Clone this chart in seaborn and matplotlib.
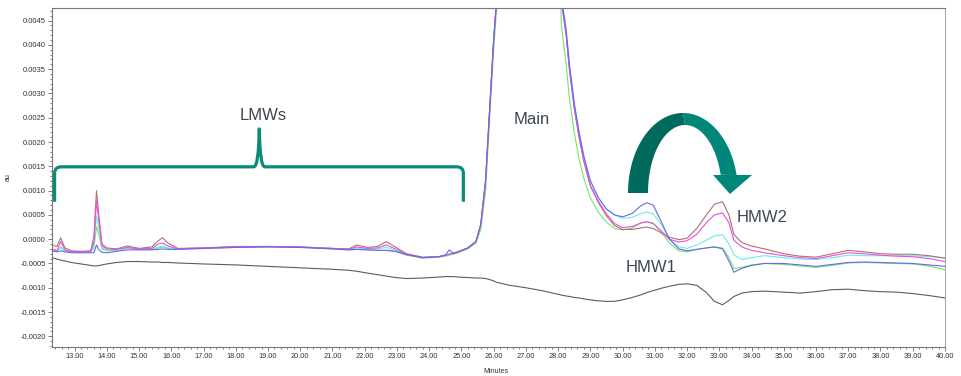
import numpy as np
import pandas as pd
import seaborn as sns
import matplotlib.pyplot as plt
from matplotlib.path import Path
from matplotlib.patches import PathPatch, Polygon
from matplotlib.ticker import MultipleLocator, FuncFormatter

# retention time grid (min) and absorbance of each injection, in 1e-4 au
minutes = [
    12.3, 12.45, 12.57, 12.7, 12.9, 13.2, 13.5, 13.6, 13.68, 13.76,
    13.85, 14.0, 14.3, 14.64, 15.0, 15.4, 15.6, 15.73, 15.9, 16.2,
    17.0, 18.0, 19.0, 20.0, 21.0, 21.5, 21.75, 22.1, 22.4, 22.67,
    22.95, 23.3, 23.8, 24.3, 24.5, 24.62, 24.75, 24.9, 25.2,
    25.45, 25.6, 25.75, 25.87, 26.0, 26.1, 26.5, 27.0, 27.5, 27.9,
    28.1, 28.25, 28.35, 28.5, 28.65, 28.8, 29.0, 29.25, 29.5, 29.75,
    30.0, 30.3, 30.55, 30.75, 30.95, 31.2, 31.45, 31.75, 32.0, 32.3,
    32.6, 32.85, 33.1, 33.3, 33.45, 33.7, 34.0, 34.4, 35.0, 35.5,
    36.0, 36.5, 37.0, 37.5, 38.0, 38.5, 39.0, 39.5, 40.0,
]

brown = [
    -1.2, -1.5, 0.3, -1.8, -2.4, -2.5, -2.4, 0.5, 10.0, 4.5,
    -1.0, -1.8, -2.0, -1.4, -1.9, -1.6, -0.3, 0.3, -0.8, -1.9,
    -1.8, -1.5, -1.5, -1.6, -1.9, -2.0, -1.2, -1.7, -1.5, -0.5,
    -1.6, -3.0, -3.7, -3.6, -3.3, -3.1, -2.9, -2.6, -1.8,
    -0.5, 3.0, 12.0, 26.0, 41.0, 50.0, 300.0, 500.0, 400.0, 120.0,
    49.0, 42.0, 35.0, 27.0, 21.0, 16.0, 11.0, 7.5, 4.8, 2.8,
    2.0, 2.0, 2.3, 2.5, 2.2, 1.3, 0.4, -0.1, 0.2, 2.2,
    5.0, 7.2, 7.7, 5.0, 1.0, -0.7, -1.4, -2.0, -3.0, -3.5,
    -3.7, -3.0, -2.3, -2.6, -3.0, -3.1, -3.1, -3.4, -3.9,
]
magenta = [
    -2.0, -2.4, -0.5, -2.2, -2.6, -2.6, -2.5, -0.5, 7.8, 3.5,
    -1.4, -2.0, -2.1, -1.7, -2.0, -1.9, -1.0, -0.8, -1.4, -2.0,
    -1.8, -1.6, -1.5, -1.6, -1.9, -2.1, -1.6, -1.9, -1.8, -1.2,
    -2.0, -3.1, -3.8, -3.6, -3.3, -3.1, -2.9, -2.6, -1.8,
    -0.5, 3.0, 12.0, 26.0, 41.0, 50.0, 300.0, 500.0, 400.0, 120.0,
    49.0, 42.0, 35.0, 27.0, 21.0, 16.0, 11.0, 7.8, 5.2, 3.2,
    2.4, 2.6, 3.3, 3.6, 3.2, 1.7, 0.0, -0.6, -0.3, 1.0,
    3.4, 5.0, 5.4, 3.4, -0.2, -1.6, -2.3, -2.8, -3.4, -3.8,
    -4.0, -3.4, -2.8, -3.0, -3.3, -3.5, -3.6, -4.0, -4.6,
]
cyan = [
    -2.2, -2.4, -1.8, -2.4, -2.6, -2.6, -2.6, -1.2, 4.8, 2.0,
    -1.8, -2.2, -2.2, -1.9, -2.0, -2.0, -1.6, -1.4, -1.8, -2.0,
    -1.8, -1.6, -1.5, -1.6, -1.9, -2.1, -1.8, -2.0, -2.0, -1.7,
    -2.3, -3.1, -3.8, -3.6, -3.3, -3.1, -2.9, -2.6, -1.8,
    -0.5, 3.0, 12.0, 26.0, 41.0, 50.0, 300.0, 500.0, 400.0, 125.0,
    50.0, 43.0, 36.0, 28.0, 22.0, 17.0, 12.0, 8.5, 6.2, 5.0,
    4.3, 4.5, 5.2, 5.6, 5.2, 3.0, 0.0, -1.6, -1.9, -1.2,
    -0.2, 0.7, 0.9, -1.0, -3.2, -4.2, -3.8, -3.4, -3.8, -4.1,
    -4.2, -3.8, -3.3, -3.4, -3.4, -3.4, -3.4, -3.6, -3.9,
]
green = [
    -2.2, -2.3, -1.6, -2.4, -2.6, -2.6, -2.6, -1.8, 2.6, 0.8,
    -2.0, -2.4, -2.3, -1.9, -2.1, -2.1, -1.8, -1.6, -1.9, -2.1,
    -1.9, -1.7, -1.6, -1.7, -2.0, -2.2, -2.1, -2.2, -2.3, -2.3,
    -2.5, -3.3, -3.9, -3.7, -3.5, -3.3, -3.1, -2.8, -2.0,
    -0.8, 2.0, 10.0, 24.0, 39.0, 48.0, 300.0, 500.0, 400.0, 100.0,
    44.0, 36.0, 29.0, 22.0, 16.5, 12.5, 8.5, 5.5, 3.5, 2.2,
    1.9, 2.3, 3.3, 3.6, 3.3, 1.5, -0.8, -2.4, -2.6, -2.1,
    -1.8, -1.6, -1.8, -3.8, -6.0, -5.8, -5.3, -5.0, -5.2, -5.5,
    -5.8, -5.4, -4.9, -4.8, -4.9, -5.0, -5.1, -5.5, -6.3,
]
blue = [
    -2.4, -2.6, -2.4, -2.6, -2.8, -2.8, -2.8, -2.8, -1.2, -2.2,
    -2.7, -2.8, -2.5, -2.2, -2.2, -2.2, -2.1, -2.0, -2.1, -2.1,
    -1.9, -1.7, -1.6, -1.7, -2.0, -2.2, -2.1, -2.2, -2.3, -2.3,
    -2.5, -3.2, -3.8, -3.6, -3.3, -2.2, -2.9, -2.6, -1.8,
    -0.5, 3.0, 12.0, 26.0, 41.0, 50.0, 300.0, 500.0, 400.0, 125.0,
    50.0, 43.0, 36.0, 28.0, 22.0, 17.0, 12.0, 8.5, 6.2, 5.0,
    4.6, 5.3, 6.8, 7.5, 7.0, 3.6, 0.0, -2.0, -2.4, -2.1,
    -1.8, -1.6, -2.0, -4.5, -6.8, -6.0, -5.4, -5.0, -5.0, -5.3,
    -5.6, -5.2, -4.8, -4.7, -4.8, -4.9, -5.0, -5.3, -5.6,
]
blank = [
    -3.8, -4.1, -4.3, -4.5, -4.8, -5.1, -5.4, -5.5, -5.5, -5.4,
    -5.3, -5.1, -4.8, -4.6, -4.6, -4.7, -4.7, -4.8, -4.8, -4.9,
    -5.1, -5.3, -5.6, -5.9, -6.2, -6.4, -6.6, -7.0, -7.3, -7.6,
    -7.9, -8.1, -8.0, -7.8, -7.7, -7.7, -7.7, -7.8, -7.9,
    -8.0, -8.0, -8.1, -8.3, -8.6, -8.9, -9.5, -10.0, -10.6, -11.2,
    -11.5, -11.7, -11.8, -12.0, -12.1, -12.3, -12.5, -12.7, -12.8, -12.8,
    -12.5, -12.0, -11.5, -11.0, -10.6, -10.1, -9.7, -9.3, -9.2, -9.5,
    -11.0, -12.8, -13.5, -12.6, -11.8, -11.1, -10.8, -10.7, -10.9, -11.1,
    -10.8, -10.4, -10.3, -10.6, -10.8, -10.9, -11.2, -11.6, -12.1,
]

samples = {"green": green, "cyan": cyan, "brown": brown,
           "magenta": magenta, "blue": blue}
palette = {"green": "#6ce86c", "cyan": "#66eeee", "brown": "#b0716f",
           "magenta": "#ee4ee0", "blue": "#6868ee"}

rows = []
for name, vals in samples.items():
    for t, v in zip(minutes, vals):
        rows.append({"Minutes": t, "au": v * 1e-4, "Sample": name})
df = pd.DataFrame(rows)
df_blank = pd.DataFrame({"Minutes": minutes, "au": np.array(blank) * 1e-4})

sns.set_style("white")
plt.rcParams["font.family"] = ["Liberation Sans", "DejaVu Sans"]

W, H = 961, 376
fig = plt.figure(figsize=(W / 100, H / 100), dpi=100)
ax = fig.add_axes([52 / W, 1 - 347 / H, 893 / W, 339 / H])

sns.lineplot(data=df_blank, x="Minutes", y="au", color="#5c5c5c",
             linewidth=0.8, estimator=None, sort=False, ax=ax)
sns.lineplot(data=df, x="Minutes", y="au", hue="Sample", palette=palette,
             estimator=None, sort=False, linewidth=0.8, legend=False, ax=ax)

ax.set_xlim(12.3, 40.001)
ax.set_ylim(-0.00222, 0.00476)
ax.xaxis.set_major_locator(MultipleLocator(1))
ax.xaxis.set_minor_locator(MultipleLocator(0.2))
ax.xaxis.set_major_formatter(FuncFormatter(lambda v, p: f"{v:.2f}"))
ax.yaxis.set_major_locator(MultipleLocator(0.0005))
ax.yaxis.set_minor_locator(MultipleLocator(0.0001))
ax.yaxis.set_major_formatter(
    FuncFormatter(lambda v, p: f"{round(v, 4) + 0.0:.4f}"))
ax.tick_params(which="both", direction="out", color="#666666", width=0.6,
               labelcolor="#333333", pad=1.5, bottom=True, left=True)
ax.tick_params(which="major", length=3)
ax.tick_params(which="minor", length=1.6)
ax.tick_params(axis="x", labelsize=5.3)
ax.tick_params(axis="y", labelsize=5.5)
for s in ax.spines.values():
    s.set_color("#777777")
    s.set_linewidth(0.8)
ax.spines["right"].set_color("#aaaaaa")

ax.set_xlabel("Minutes", fontsize=5, color="#333333")
ax.set_ylabel("au", fontsize=5, color="#333333")
ax.xaxis.set_label_coords(0.497, -0.062)
ax.yaxis.set_label_coords(-0.045, 0.5)

teal = "#0a8a78"

# brace over the low molecular weight region
brace = Path(
    [(12.38, 0.00077), (12.38, 0.00136), (12.38, 0.00149), (12.60, 0.00149),
     (18.56, 0.00149), (18.71, 0.00149), (18.73, 0.00227),
     (18.75, 0.00149), (18.90, 0.00149),
     (24.85, 0.00149), (25.06, 0.00149), (25.06, 0.00136), (25.06, 0.00077)],
    [Path.MOVETO, Path.LINETO, Path.CURVE3, Path.CURVE3,
     Path.LINETO, Path.CURVE3, Path.CURVE3,
     Path.CURVE3, Path.CURVE3,
     Path.LINETO, Path.CURVE3, Path.CURVE3, Path.LINETO])
ax.add_patch(PathPatch(brace, facecolor="none", edgecolor=teal, lw=2.3,
                       capstyle="butt", joinstyle="round", zorder=5))


# curved arrow HMW1 -> HMW2, drawn in figure pixels
def fp(x, y):
    return (x / W, 1 - y / H)


def arch(th0, th1, th2, th3):
    a = np.radians(np.linspace(th0, th1, 40))
    b = np.radians(np.linspace(th2, th3, 40))
    outer = [fp(683 + 55 * np.cos(t), 193 - 80 * np.sin(t)) for t in a]
    inner = [fp(685 + 37 * np.cos(t), 193 - 68 * np.sin(t)) for t in b]
    return outer + inner


fig.patches.append(Polygon(arch(180, 90, 90, 180), closed=True,
                           facecolor="#006b5d", edgecolor="none",
                           transform=fig.transFigure))
fig.patches.append(Polygon(arch(90, 13, 15.5, 90), closed=True,
                           facecolor="#00877a", edgecolor="none",
                           transform=fig.transFigure))
fig.patches.append(Polygon([fp(713, 175), fp(752, 175), fp(730, 194)],
                           closed=True, facecolor="#00877a",
                           edgecolor="none", transform=fig.transFigure))

lab = dict(fontsize=12, color="#3d4750", ha="center", va="center")
fig.text(*fp(263, 115), "LMWs", **lab)
fig.text(*fp(532, 120), "Main", **lab)
fig.text(*fp(651, 268), "HMW1", **lab)
fig.text(*fp(762, 217), "HMW2", **lab)

fig.savefig("out.png", dpi=100)
